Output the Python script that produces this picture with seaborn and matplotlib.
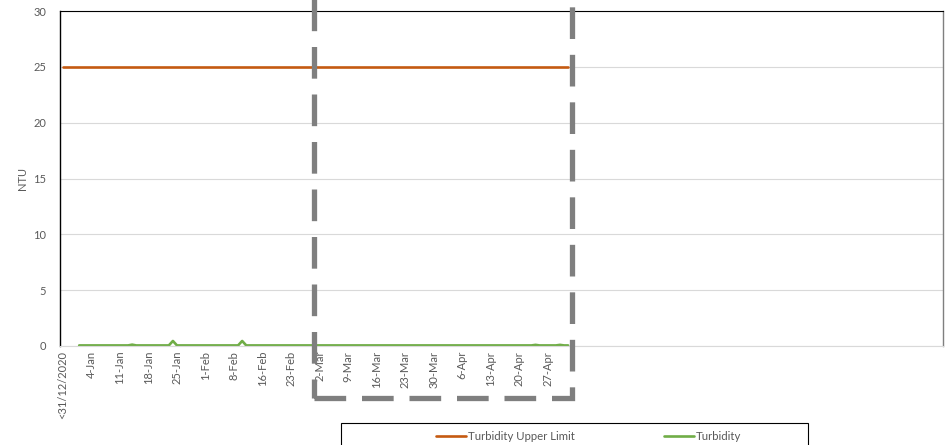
import pandas as pd
import matplotlib.pyplot as plt
import matplotlib.transforms as mtransforms
from matplotlib.patches import Rectangle
import seaborn as sns

# x positions are days counted from the first category
tick_days = [0, 7, 14, 21, 28, 35, 42, 49, 56, 63, 70, 77, 84, 91, 98, 105, 112, 119]
tick_labels = ['<31/12/2020', '4-Jan', '11-Jan', '18-Jan', '25-Jan', '1-Feb', '8-Feb',
               '16-Feb', '23-Feb', '2-Mar', '9-Mar', '16-Mar', '23-Mar', '30-Mar',
               '6-Apr', '13-Apr', '20-Apr', '27-Apr']

limit_days = [0, 124]
limit_values = [25, 25]

turb_days = list(range(4, 125))
turb_values = [
    0.05, 0.05, 0.05, 0.05, 0.05, 0.05, 0.05, 0.05, 0.05, 0.05,   # 4-13
    0.05, 0.05, 0.05, 0.12, 0.05, 0.05, 0.05, 0.05, 0.05, 0.05,   # 14-23
    0.05, 0.05, 0.05, 0.45, 0.05, 0.05, 0.05, 0.05, 0.05, 0.05,   # 24-33
    0.05, 0.05, 0.05, 0.05, 0.05, 0.05, 0.05, 0.05, 0.05, 0.05,   # 34-43
    0.45, 0.05, 0.05, 0.05, 0.05, 0.05, 0.05, 0.05, 0.05, 0.05,   # 44-53
    0.05, 0.05, 0.05, 0.05, 0.05, 0.05, 0.05, 0.05, 0.05, 0.05,   # 54-63
    0.05, 0.05, 0.05, 0.05, 0.05, 0.05, 0.05, 0.05, 0.05, 0.05,   # 64-73
    0.05, 0.05, 0.05, 0.05, 0.05, 0.05, 0.05, 0.05, 0.05, 0.05,   # 74-83
    0.05, 0.05, 0.05, 0.05, 0.05, 0.05, 0.05, 0.05, 0.05, 0.05,   # 84-93
    0.05, 0.05, 0.05, 0.05, 0.05, 0.05, 0.05, 0.05, 0.05, 0.05,   # 94-103
    0.05, 0.05, 0.05, 0.05, 0.05, 0.05, 0.05, 0.05, 0.05, 0.05,   # 104-113
    0.05, 0.05, 0.10, 0.05, 0.05, 0.05, 0.05, 0.05, 0.10, 0.05,   # 114-123
    0.05,                                                          # 124
]

highlight_start = 61.6
highlight_end = 124.9

sns.set_style("white")
plt.rcParams['font.family'] = ['Lato', 'DejaVu Sans']

fig = plt.figure(figsize=(9.53, 4.45), dpi=100)
ax = fig.add_axes([0.063, 0.2225, 0.9265, 0.7525])

limit_df = pd.DataFrame({"day": limit_days, "NTU": limit_values})
turb_df = pd.DataFrame({"day": turb_days, "NTU": turb_values})

sns.lineplot(data=limit_df, x="day", y="NTU", color="#C55A11", lw=1.9,
             label="Turbidity Upper Limit", ax=ax)
sns.lineplot(data=turb_df, x="day", y="NTU", color="#70AD47", lw=1.9,
             label="Turbidity", ax=ax)

ax.set_xlim(-0.7, 216)
ax.set_ylim(0, 30)
ax.set_yticks(range(0, 31, 5))
ax.set_xticks(tick_days)
ax.set_xticklabels(tick_labels, rotation=90)
ax.tick_params(axis='both', length=0, labelsize=8, labelcolor='#595959')
ax.tick_params(axis='y', pad=10)
ax.set_xlabel("")
ax.set_ylabel("NTU", fontsize=8, color='#595959')
ax.yaxis.set_label_coords(-0.036, 0.5)
ax.grid(axis='y', color='#d9d9d9', lw=0.8)
ax.grid(axis='x', visible=False)

ax.spines['left'].set_color('#000000')
ax.spines['left'].set_linewidth(1.0)
ax.spines['top'].set_color('#000000')
ax.spines['top'].set_linewidth(0.8)
ax.spines['right'].set_color('#7f7f7f')
ax.spines['right'].set_linewidth(1.0)
ax.spines['bottom'].set_color('#d9d9d9')
ax.spines['bottom'].set_linewidth(0.8)

# dashed highlight box
trans = mtransforms.blended_transform_factory(ax.transData, ax.transAxes)
box = Rectangle((highlight_start, -0.155), highlight_end - highlight_start, 1.2,
                transform=trans, fill=False, edgecolor='#7f7f7f', lw=3.8,
                linestyle=(0, (6, 3)), clip_on=False, zorder=5)
ax.add_patch(box)

# legend
leg = ax.legend(loc='upper left', bbox_to_anchor=(0.452, 0.045),
                bbox_transform=fig.transFigure, ncol=2, frameon=False,
                fontsize=8.2, handlelength=2.6, handletextpad=0.2,
                columnspacing=7.8, borderpad=0)
for t in leg.get_texts():
    t.set_color('#595959')
fig.patches.append(Rectangle((341 / 953, -0.05), 467 / 953, 0.05 + 22 / 445,
                             transform=fig.transFigure, fill=False,
                             edgecolor='#000000', lw=0.8))

fig.savefig('out.png', dpi=100)
